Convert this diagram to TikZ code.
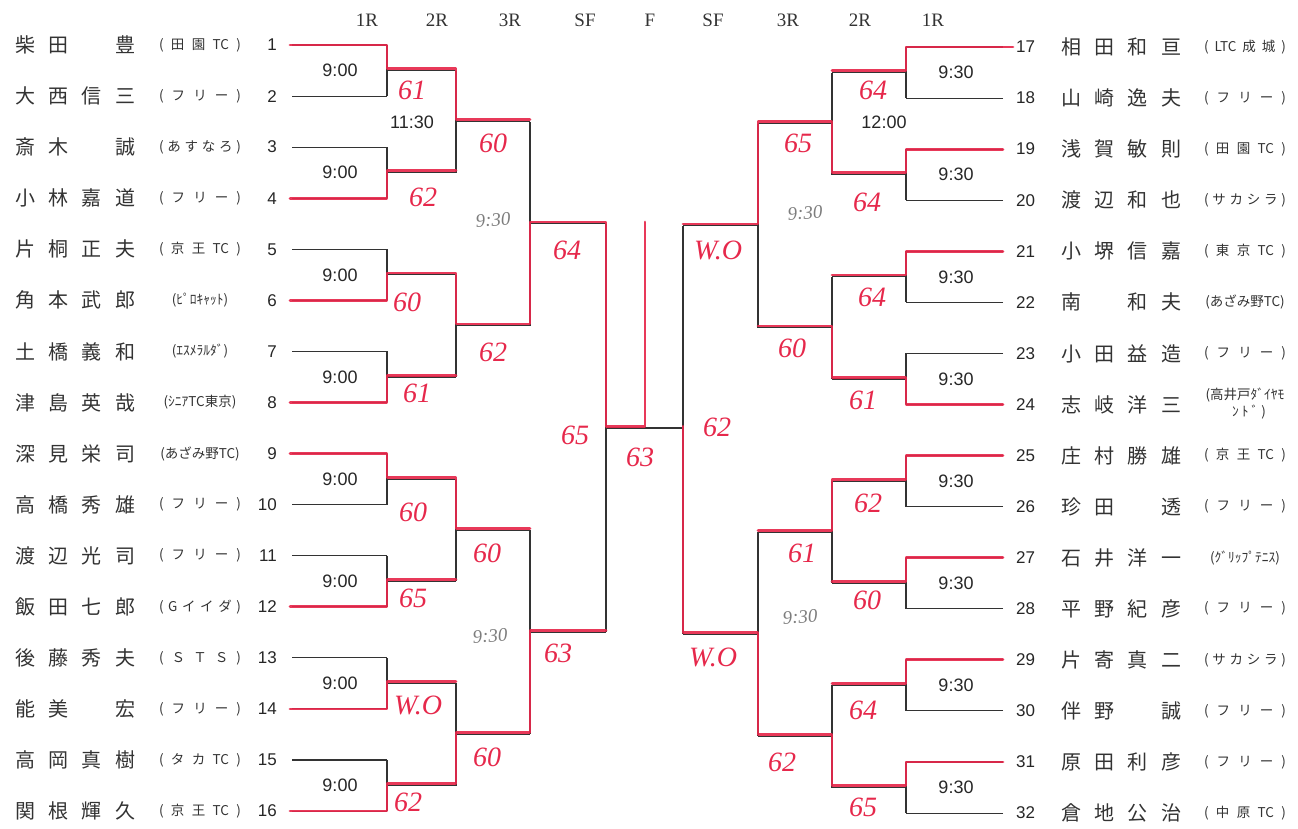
\documentclass[tikz,border=0pt]{standalone}
\usepackage{fontspec}
\setmainfont{Liberation Serif}
\newfontfamily\jpfont{Noto Sans CJK JP}
\newfontfamily\numfont{Liberation Sans}
\usepackage{xcolor}
\usepackage{tikz}

\definecolor{penred}{RGB}{230,40,75}
\definecolor{pencilgray}{RGB}{125,125,125}

\tikzset{
  bline/.style={line width=1.1pt, black!80},
  rline/.style={line width=2.8pt, penred, line cap=round, line join=round, yshift=1.8pt, opacity=0.92},
  rnd/.style={font=\fontsize{19}{19}\selectfont, text=black!80},
  num/.style={font=\numfont\fontsize{17}{17}\selectfont, text=black!85, inner sep=0pt},
  pname/.style={font=\jpfont\fontsize{20}{20}\selectfont, text=black!80, inner sep=0pt},
  aff/.style={font=\jpfont\fontsize{13.5}{14}\selectfont, text=black!80, inner sep=0pt},
  stime/.style={font=\numfont\fontsize{18}{18}\selectfont, text=black!85},
  score/.style={font=\itshape\fontsize{28}{28}\selectfont, text=penred},
  pnote/.style={font=\itshape\fontsize{19}{19}\selectfont, text=pencilgray, rotate=4}
}

\newcommand{\nm}[1]{\makebox[120pt][s]{#1}}
\newcommand{\af}[1]{\makebox[82pt][s]{#1}}

\begin{document}
\begin{tikzpicture}[x=1pt, y=-1pt,
  declare function={yl(\q)=45+51.07*(\q-1); yr(\q)=47+51.07*(\q-17);}]

\useasboundingbox (0,0) rectangle (1298,828);

%%% --- Round headers --- %%%
\foreach \x/\t [count=\n] in {367/1R,437/2R,510/3R,585/SF,650/F,713/SF,788/3R,860/2R,933/1R}
  \node[rnd] (h\n) at (\x,20) {\t};

%%% --- Left players --- %%%
\foreach \i/\nam/\club in {
  1/{柴 田 \phantom{田} 豊}/{( 田 園 TC )},
  2/{大 西 信 三}/{( フ リ ー )},
  3/{斎 木 \phantom{田} 誠}/{( あ す な ろ )},
  4/{小 林 嘉 道}/{( フ リ ー )},
  5/{片 桐 正 夫}/{( 京 王 TC )},
  6/{角 本 武 郎}/{\hfil(ﾋﾟﾛｷｬｯﾄ)\hfil},
  7/{土 橋 義 和}/{\hfil(ｴｽﾒﾗﾙﾀﾞ)\hfil},
  8/{津 島 英 哉}/{\hfil(ｼﾆｱTC東京)\hfil},
  9/{深 見 栄 司}/{\hfil(あざみ野TC)\hfil},
  10/{高 橋 秀 雄}/{( フ リ ー )},
  11/{渡 辺 光 司}/{( フ リ ー )},
  12/{飯 田 七 郎}/{( G イ イ ダ )},
  13/{後 藤 秀 夫}/{( Ｓ Ｔ Ｓ )},
  14/{能 美 \phantom{田} 宏}/{( フ リ ー )},
  15/{高 岡 真 樹}/{( タ カ TC )},
  16/{関 根 輝 久}/{( 京 王 TC )}}
{
  \node[num, anchor=east] (n\i) at (277,{yl(\i)}) {\i};
  \node[pname] (nm\i) at (75,{yl(\i)}) {\nm{\nam}};
  \node[aff] (c\i) at (200,{yl(\i)}) {\af{\club}};
}

%%% --- Right players --- %%%
\foreach \i/\nam/\club in {
  17/{相 田 和 亘}/{( LTC 成 城 )},
  18/{山 崎 逸 夫}/{( フ リ ー )},
  19/{浅 賀 敏 則}/{( 田 園 TC )},
  20/{渡 辺 和 也}/{( サ カ シ ラ )},
  21/{小 堺 信 嘉}/{( 東 京 TC )},
  22/{南 \phantom{田} 和 夫}/{\hfil(あざみ野TC)\hfil},
  23/{小 田 益 造}/{( フ リ ー )},
  24/{志 岐 洋 三}/{},
  25/{庄 村 勝 雄}/{( 京 王 TC )},
  26/{珍 田 \phantom{田} 透}/{( フ リ ー )},
  27/{石 井 洋 一}/{\hfil(ｸﾞﾘｯﾌﾟﾃﾆｽ)\hfil},
  28/{平 野 紀 彦}/{( フ リ ー )},
  29/{片 寄 真 二}/{( サ カ シ ラ )},
  30/{伴 野 \phantom{田} 誠}/{( フ リ ー )},
  31/{原 田 利 彦}/{( フ リ ー )},
  32/{倉 地 公 治}/{( 中 原 TC )}}
{
  \node[num, anchor=west] (n\i) at (1016,{yr(\i)}) {\i};
  \node[pname] (nm\i) at (1121,{yr(\i)}) {\nm{\nam}};
  \node[aff] (c\i) at (1245,{yr(\i)}) {\af{\club}};
}
\node[aff] (c24a) at (1245,{yr(24)-9}) {(高井戸ﾀﾞｲﾔﾓ};
\node[aff] (c24b) at (1249,{yr(24)+8}) {ﾝ ﾄ ﾞ )};

%%% --- Printed bracket, left half --- %%%
\foreach \i in {1,...,16}
  \draw[bline] ([xshift=15pt]n\i.east) -- (387,{yl(\i)});
\foreach \k in {1,...,8}
  \draw[bline] (387,{yl(2*\k-1)}) -- (387,{yl(2*\k)})
               (387,{yl(2*\k-0.5)}) -- (456,{yl(2*\k-0.5)});
\foreach \k in {1,...,4}
  \draw[bline] (456,{yl(4*\k-2.5)}) -- (456,{yl(4*\k-0.5)})
               (456,{yl(4*\k-1.5)}) -- (530,{yl(4*\k-1.5)});
\foreach \k in {1,2}
  \draw[bline] (530,{yl(8*\k-5.5)}) -- (530,{yl(8*\k-1.5)})
               (530,{yl(8*\k-3.5)}) -- (606,{yl(8*\k-3.5)});
\draw[bline] (606,{yl(4.5)}) -- (606,{yl(12.5)})
             (606,{yl(8.5)}) -- (683,{yl(8.5)});

%%% --- Printed bracket, right half --- %%%
\foreach \i in {17,...,32}
  \draw[bline] ([xshift=-13pt]n\i.west) -- (906,{yr(\i)});
\foreach \k in {1,...,8}
  \draw[bline] (906,{yr(2*\k+15)}) -- (906,{yr(2*\k+16)})
               (906,{yr(2*\k+15.5)}) -- (832,{yr(2*\k+15.5)});
\foreach \k in {1,...,4}
  \draw[bline] (832,{yr(4*\k+13.5)}) -- (832,{yr(4*\k+15.5)})
               (832,{yr(4*\k+14.5)}) -- (758,{yr(4*\k+14.5)});
\foreach \k in {1,2}
  \draw[bline] (758,{yr(8*\k+10.5)}) -- (758,{yr(8*\k+14.5)})
               (758,{yr(8*\k+12.5)}) -- (683,{yr(8*\k+12.5)});
\draw[bline] (683,{yr(20.5)}) -- (683,{yr(28.5)});

%%% --- Winner paths (red pen) --- %%%
% left half
\draw[rline] ([xshift=13pt]n1.east) -| (387,{yl(1.5)}) -| (456,{yl(2.5)}) -- (530,{yl(2.5)});
\draw[rline] ([xshift=13pt]n4.east) -| (387,{yl(3.5)}) -- (456,{yl(3.5)});
\draw[rline] ([xshift=13pt]n6.east) -| (387,{yl(5.5)}) -| (456,{yl(6.5)}) -| (530,{yl(4.5)})
  -| (606,{yl(8.5)}) -| (645,{yl(4.5)});
\draw[rline] ([xshift=13pt]n8.east) -| (387,{yl(7.5)}) -- (456,{yl(7.5)});
\draw[rline] ([xshift=13pt]n9.east) -| (387,{yl(9.5)}) -| (456,{yl(10.5)}) -- (530,{yl(10.5)});
\draw[rline] ([xshift=13pt]n12.east) -| (387,{yl(11.5)}) -- (456,{yl(11.5)});
\draw[rline] ([xshift=13pt]n14.east) -| (387,{yl(13.5)}) -- (456,{yl(13.5)});
\draw[rline] ([xshift=13pt]n16.east) -| (387,{yl(15.5)}) -| (456,{yl(14.5)}) -| (530,{yl(12.5)})
  -- (606,{yl(12.5)});
% right half
\draw[rline] ([xshift=-3pt]n17.west) -| (906,{yr(17.5)}) -- (832,{yr(17.5)});
\draw[rline] ([xshift=-13pt]n19.west) -| (906,{yr(19.5)}) -| (832,{yr(18.5)}) -| (758,{yr(20.5)})
  -- (683,{yr(20.5)});
\draw[rline] ([xshift=-13pt]n21.west) -| (906,{yr(21.5)}) -- (832,{yr(21.5)});
\draw[rline] ([xshift=-13pt]n24.west) -| (906,{yr(23.5)}) -| (832,{yr(22.5)}) -- (758,{yr(22.5)});
\draw[rline] ([xshift=-13pt]n25.west) -| (906,{yr(25.5)}) -| (832,{yr(26.5)}) -- (758,{yr(26.5)});
\draw[rline] ([xshift=-13pt]n27.west) -| (906,{yr(27.5)}) -- (832,{yr(27.5)});
\draw[rline] ([xshift=-13pt]n29.west) -| (906,{yr(29.5)}) -- (832,{yr(29.5)});
\draw[rline] ([xshift=-13pt]n31.west) -| (906,{yr(31.5)}) -| (832,{yr(30.5)}) -| (758,{yr(28.5)})
  -| (683,{yl(8.5)});

%%% --- Match times --- %%%
\foreach \k in {1,...,8}
  \node[stime] (tl\k) at (340,{yl(2*\k-0.5)}) {9:00};
\foreach \k in {1,...,8}
  \node[stime] (tr\k) at (956,{yr(2*\k+15.5)}) {9:30};
\node[stime] (tl2r) at (412,122) {11:30};
\node[stime] (tr2r) at (884,122) {12:00};

% pencil notes
\foreach \x/\y [count=\n] in {493/220,490/636,805/213,800/617}
  \node[pnote] (g\n) at (\x,\y) {9:30};

%%% --- Scores (red pen) --- %%%
\foreach \x/\y/\t [count=\n] in {
  412/90/61, 423/197/62, 493/143/60, 407/302/60, 493/352/62, 417/393/61,
  567/250/64, 575/435/65, 413/512/60, 413/598/65, 487/553/60, 418/705/W.O,
  408/802/62, 487/757/60, 558/653/63, 640/457/63,
  873/90/64, 867/202/64, 798/143/65, 872/297/64, 863/400/61, 792/348/60,
  718/250/W.O, 717/427/62, 868/503/62, 802/553/61, 867/600/60, 863/710/64,
  713/657/W.O, 782/762/62, 863/807/65}
  \node[score] (s\n) at (\x,\y) {\t};

\end{tikzpicture}
\end{document}
